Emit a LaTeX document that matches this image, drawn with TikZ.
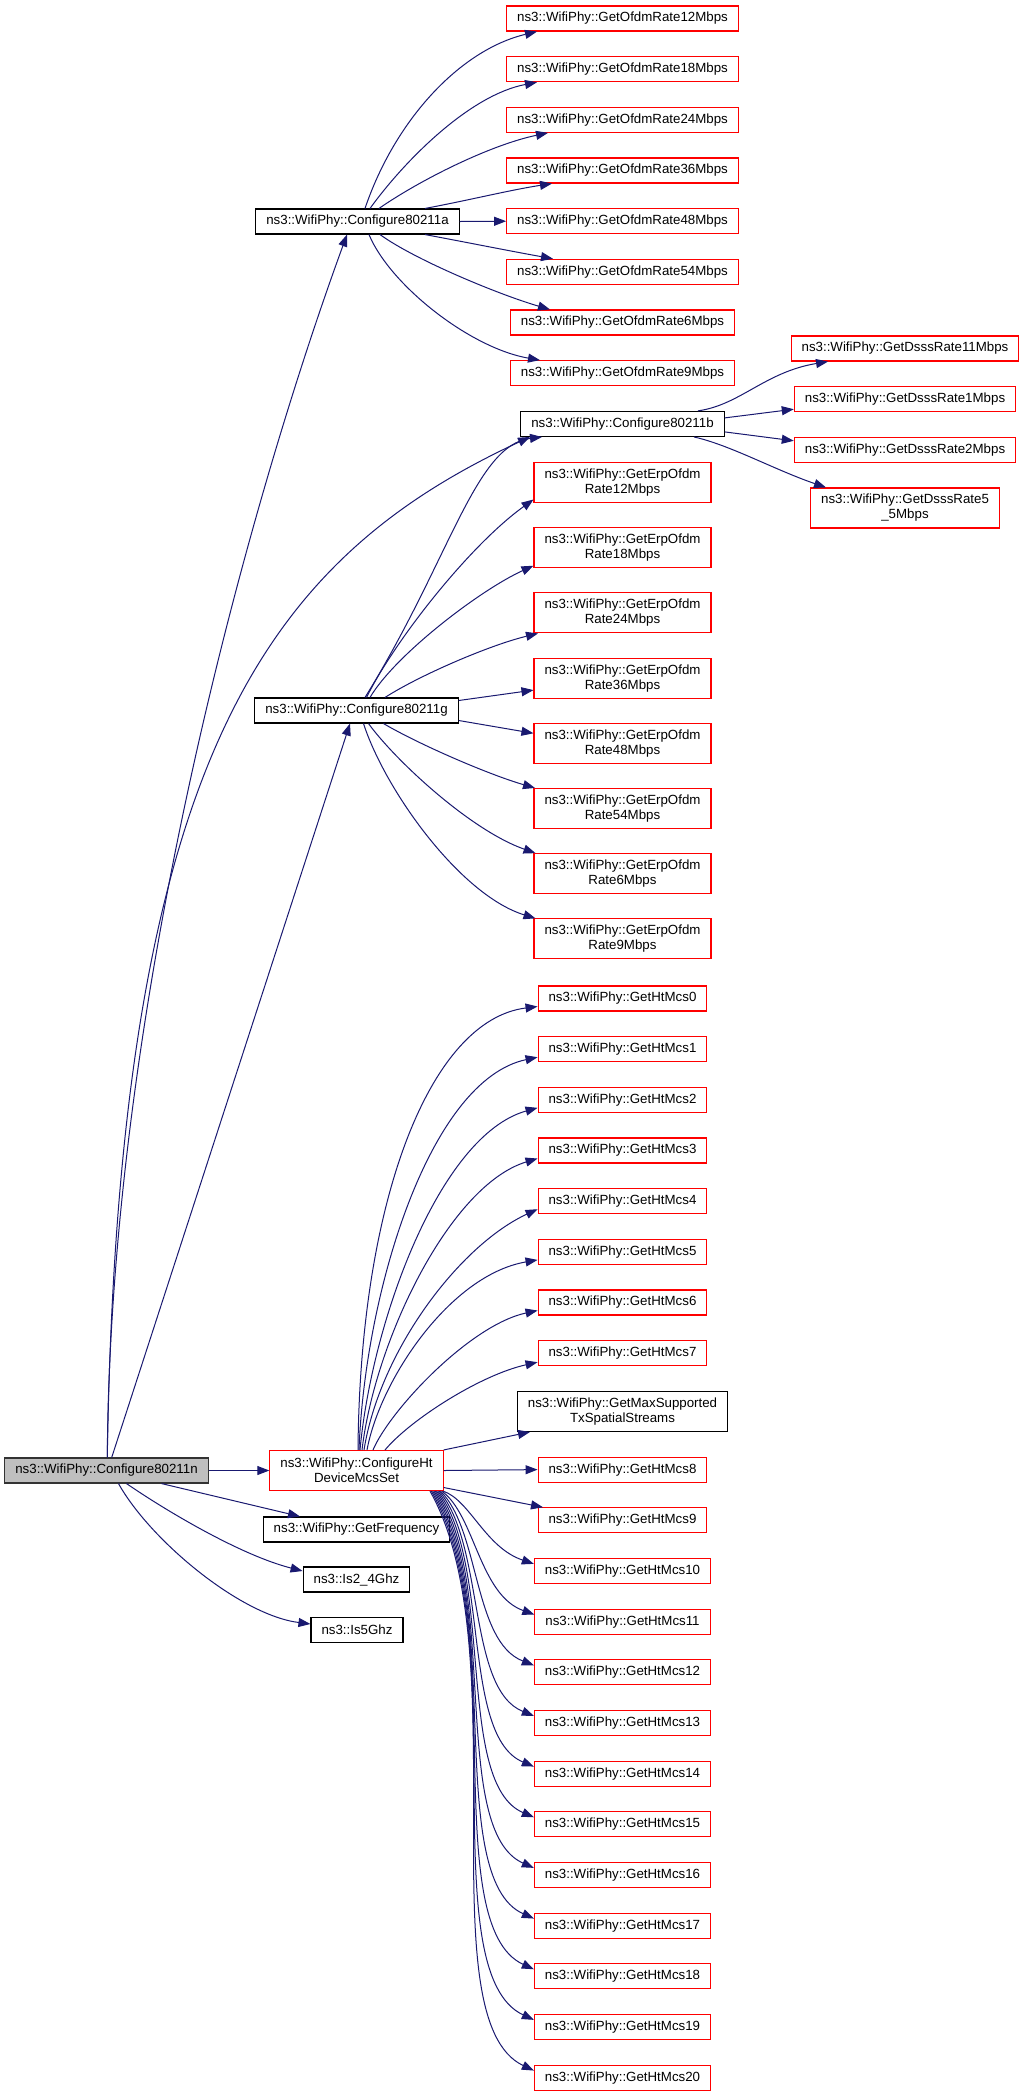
\documentclass[tikz,border=0pt]{standalone}
\usepackage{fontspec}
\setmainfont{Liberation Sans}
\usetikzlibrary{arrows.meta}
\definecolor{edgec}{HTML}{191970}
\definecolor{boxred}{HTML}{FF0000}
\definecolor{grayfill}{HTML}{BFBFBF}
\tikzset{
  box/.style={draw, line width=1.1pt, font=\fontsize{13.3pt}{15pt}\selectfont,
    inner xsep=10.5pt, inner ysep=0pt, minimum height=25pt, align=center, fill=white},
  rbox/.style={box, draw=boxred},
  kbox/.style={box, draw=black},
  twoline/.style={minimum height=40pt},
  conn/.style={draw=edgec, line width=1pt, -{Triangle[length=12pt,width=9pt]}},
}
\begin{document}
\begin{tikzpicture}[x=1pt,y=-1pt]
\useasboundingbox (0,0) rectangle (1024,2097);
\fill[white] (0,0) rectangle (1024,2097);

% column 0/1
\node[kbox, fill=grayfill, draw=black!80] (n) at (106.5,1470.5) {ns3::WifiPhy::Configure80211n};
\node[kbox] (a) at (357.5,221.5) {ns3::WifiPhy::Configure80211a};
\node[kbox] (g) at (356.5,710.5) {ns3::WifiPhy::Configure80211g};
\node[rbox,twoline] (ht) at (356.5,1470.5) {ns3::WifiPhy::ConfigureHt\\DeviceMcsSet};
\node[kbox] (fr) at (356.5,1529.5) {ns3::WifiPhy::GetFrequency};
\node[kbox] (i24) at (356.5,1579.5) {ns3::Is2\_4Ghz};
\node[kbox] (i5) at (357,1630) {ns3::Is5Ghz};

% column 2
\node[rbox] (o12) at (622.5,18.5) {ns3::WifiPhy::GetOfdmRate12Mbps};
\node[rbox] (o18) at (622.5,69.2) {ns3::WifiPhy::GetOfdmRate18Mbps};
\node[rbox] (o24) at (622.5,119.8) {ns3::WifiPhy::GetOfdmRate24Mbps};
\node[rbox] (o36) at (622.5,170.5) {ns3::WifiPhy::GetOfdmRate36Mbps};
\node[rbox] (o48) at (622.5,221.2) {ns3::WifiPhy::GetOfdmRate48Mbps};
\node[rbox] (o54) at (622.5,271.8) {ns3::WifiPhy::GetOfdmRate54Mbps};
\node[rbox] (o6) at (622.5,322.5) {ns3::WifiPhy::GetOfdmRate6Mbps};
\node[rbox] (o9) at (622.5,373.2) {ns3::WifiPhy::GetOfdmRate9Mbps};
\node[kbox] (b) at (622.5,423.9) {ns3::WifiPhy::Configure80211b};
\node[rbox,twoline] (e12) at (622.5,482.5) {ns3::WifiPhy::GetErpOfdm\\Rate12Mbps};
\node[rbox,twoline] (e18) at (622.5,547.7) {ns3::WifiPhy::GetErpOfdm\\Rate18Mbps};
\node[rbox,twoline] (e24) at (622.5,612.9) {ns3::WifiPhy::GetErpOfdm\\Rate24Mbps};
\node[rbox,twoline] (e36) at (622.5,678.1) {ns3::WifiPhy::GetErpOfdm\\Rate36Mbps};
\node[rbox,twoline] (e48) at (622.5,743.3) {ns3::WifiPhy::GetErpOfdm\\Rate48Mbps};
\node[rbox,twoline] (e54) at (622.5,808.5) {ns3::WifiPhy::GetErpOfdm\\Rate54Mbps};
\node[rbox,twoline] (e6) at (622.5,873.7) {ns3::WifiPhy::GetErpOfdm\\Rate6Mbps};
\node[rbox,twoline] (e9) at (622.5,938.9) {ns3::WifiPhy::GetErpOfdm\\Rate9Mbps};
\node[rbox] (m0) at (622.5,998.5) {ns3::WifiPhy::GetHtMcs0};
\node[rbox] (m1) at (622.5,1049.2) {ns3::WifiPhy::GetHtMcs1};
\node[rbox] (m2) at (622.5,1099.8) {ns3::WifiPhy::GetHtMcs2};
\node[rbox] (m3) at (622.5,1150.5) {ns3::WifiPhy::GetHtMcs3};
\node[rbox] (m4) at (622.5,1201.2) {ns3::WifiPhy::GetHtMcs4};
\node[rbox] (m5) at (622.5,1251.9) {ns3::WifiPhy::GetHtMcs5};
\node[rbox] (m6) at (622.5,1302.5) {ns3::WifiPhy::GetHtMcs6};
\node[rbox] (m7) at (622.5,1353.2) {ns3::WifiPhy::GetHtMcs7};
\node[kbox,twoline] (mx) at (622.5,1411.4) {ns3::WifiPhy::GetMaxSupported\\TxSpatialStreams};
\node[rbox] (m8) at (622.5,1469.6) {ns3::WifiPhy::GetHtMcs8};
\node[rbox] (m9) at (622.5,1520.3) {ns3::WifiPhy::GetHtMcs9};
\node[rbox] (m10) at (622.5,1570.9) {ns3::WifiPhy::GetHtMcs10};
\node[rbox] (m11) at (622.5,1621.6) {ns3::WifiPhy::GetHtMcs11};
\node[rbox] (m12) at (622.5,1672.3) {ns3::WifiPhy::GetHtMcs12};
\node[rbox] (m13) at (622.5,1722.9) {ns3::WifiPhy::GetHtMcs13};
\node[rbox] (m14) at (622.5,1773.6) {ns3::WifiPhy::GetHtMcs14};
\node[rbox] (m15) at (622.5,1824.3) {ns3::WifiPhy::GetHtMcs15};
\node[rbox] (m16) at (622.5,1874.9) {ns3::WifiPhy::GetHtMcs16};
\node[rbox] (m17) at (622.5,1925.6) {ns3::WifiPhy::GetHtMcs17};
\node[rbox] (m18) at (622.5,1976.3) {ns3::WifiPhy::GetHtMcs18};
\node[rbox] (m19) at (622.5,2026.9) {ns3::WifiPhy::GetHtMcs19};
\node[rbox] (m20) at (622.5,2077.6) {ns3::WifiPhy::GetHtMcs20};

% column 3
\node[rbox] (d11) at (905,348.5) {ns3::WifiPhy::GetDsssRate11Mbps};
\node[rbox] (d1) at (905,399.2) {ns3::WifiPhy::GetDsssRate1Mbps};
\node[rbox] (d2) at (905,449.8) {ns3::WifiPhy::GetDsssRate2Mbps};
\node[rbox,twoline] (d55) at (905,508) {ns3::WifiPhy::GetDsssRate5\\\_5Mbps};

% Configure80211n
\draw[conn] ([xshift=0.8pt]n.north) .. controls (110,1000) and (250,500) .. ([xshift=-10.5pt]a.south);
\draw[conn] ([xshift=0.8pt]n.north) .. controls (118,760) and (265,560) .. ([xshift=-92.5pt]b.south);
\draw[conn] ([xshift=5.2pt]n.north) -- ([xshift=-6.5pt]g.south);
\draw[conn] (n.east) -- (ht.west);
\draw[conn] ([xshift=55pt]n.south) -- ([xshift=-56.5pt]fr.north);
\draw[conn] ([xshift=20pt]n.south) .. controls (165,1510) and (240,1555) .. ([yshift=8.5pt]i24.west);
\draw[conn] ([xshift=12pt]n.south) .. controls (150,1540) and (240,1615) .. ([yshift=6pt]i5.west);

% Configure80211a
\draw[conn] ([xshift=7.5pt]a.north) .. controls (395,120) and (460,50) .. ([xshift=-85.5pt]o12.south);
\draw[conn] ([xshift=12.5pt]a.north) .. controls (405,160) and (470,95) .. ([xshift=-85.5pt]o18.south);
\draw[conn] ([xshift=21.5pt]a.north) .. controls (420,180) and (490,145) .. ([xshift=-74.5pt]o24.south);
\draw[conn] ([xshift=67.5pt]a.north) .. controls (470,200) and (510,190) .. ([xshift=-70.5pt]o36.south);
\draw[conn] (a.east) -- (o48.west);
\draw[conn] ([xshift=67.5pt]a.south) .. controls (470,243) and (510,251) .. ([xshift=-69.5pt]o54.north);
\draw[conn] ([xshift=22.5pt]a.south) .. controls (415,260) and (500,295) .. ([xshift=-72.5pt]o6.north);
\draw[conn] ([xshift=11.5pt]a.south) .. controls (390,285) and (470,348) .. ([xshift=-82.5pt]o9.north);

% Configure80211b
\draw[conn] ([xshift=75.5pt]b.north) .. controls (740,405) and (765,372) .. ([xshift=-77pt]d11.south);
\draw[conn] ([yshift=6pt]b.east) -- ([yshift=-10pt]d1.west);
\draw[conn] ([yshift=-8pt]b.east) -- ([yshift=9pt]d2.west);
\draw[conn] ([xshift=71.5pt]b.south) .. controls (730,445) and (775,470) .. ([xshift=-79pt]d55.north);

% Configure80211g
\draw[conn] ([xshift=8.5pt]g.north) .. controls (450,560) and (475,445) .. ([xshift=-80.5pt]b.south);
\draw[conn] ([xshift=10pt]g.north) .. controls (395,640) and (470,545) .. ([yshift=-17pt]e12.west);
\draw[conn] ([xshift=13.5pt]g.north) .. controls (395,655) and (480,590) .. ([yshift=-18pt]e18.west);
\draw[conn] ([xshift=28.5pt]g.north) .. controls (420,675) and (490,645) .. ([xshift=-84.5pt]e24.south);
\draw[conn] ([yshift=10pt]g.east) -- ([yshift=-12pt]e36.west);
\draw[conn] ([yshift=-10pt]g.east) -- ([yshift=10pt]e48.west);
\draw[conn] ([xshift=27pt]g.south) .. controls (420,745) and (490,775) .. ([xshift=-87.5pt]e54.north);
\draw[conn] ([xshift=12pt]g.south) .. controls (395,760) and (470,830) .. ([xshift=-87pt]e6.north);
\draw[conn] ([xshift=7pt]g.south) .. controls (385,790) and (460,895) .. ([xshift=-87pt]e9.north);

% ConfigureHtDeviceMcsSet
\draw[conn] ([xshift=1.5pt]ht.north) .. controls (360,1200) and (430,1020) .. ([yshift=-8pt]m0.west);
\draw[conn] ([xshift=2.5pt]ht.north) .. controls (365,1290) and (430,1080) .. ([yshift=-8pt]m1.west);
\draw[conn] ([xshift=3.5pt]ht.north) .. controls (372,1320) and (440,1135) .. ([yshift=-8pt]m2.west);
\draw[conn] ([xshift=5.5pt]ht.north) .. controls (375,1340) and (450,1185) .. ([yshift=-8pt]m3.west);
\draw[conn] ([xshift=7.5pt]ht.north) .. controls (380,1350) and (460,1245) .. ([yshift=-8pt]m4.west);
\draw[conn] ([xshift=10.5pt]ht.north) .. controls (380,1380) and (450,1275) .. ([yshift=-8pt]m5.west);
\draw[conn] ([xshift=16.5pt]ht.north) .. controls (390,1410) and (470,1325) .. ([yshift=-8pt]m6.west);
\draw[conn] ([xshift=28.5pt]ht.north) .. controls (410,1420) and (480,1375) .. ([yshift=-9pt]m7.west);
\draw[conn] (ht.north east) -- ([xshift=-92.5pt]mx.south);
\draw[conn] (ht.east) -- (m8.west);
\draw[conn] ([yshift=-17pt]ht.east) -- ([xshift=-79.5pt]m9.north);
\draw[conn] ([xshift=86.5pt]ht.south) .. controls (470,1500) and (485,1547.4) .. ([yshift=-6pt]m10.north west);
\draw[conn] ([xshift=85.2pt]ht.south) .. controls (475,1515) and (479,1594.6) .. ([yshift=-6pt]m11.north west);
\draw[conn] ([xshift=83.9pt]ht.south) .. controls (480,1530) and (473,1641.7) .. ([yshift=-6pt]m12.north west);
\draw[conn] ([xshift=82.6pt]ht.south) .. controls (485,1545) and (467,1688.9) .. ([yshift=-6pt]m13.north west);
\draw[conn] ([xshift=81.3pt]ht.south) .. controls (490,1560) and (461,1736.1) .. ([yshift=-6pt]m14.north west);
\draw[conn] ([xshift=80pt]ht.south) .. controls (495,1575) and (455,1783.3) .. ([yshift=-6pt]m15.north west);
\draw[conn] ([xshift=78.7pt]ht.south) .. controls (500,1590) and (449,1830.4) .. ([yshift=-6pt]m16.north west);
\draw[conn] ([xshift=77.4pt]ht.south) .. controls (505,1605) and (443,1877.6) .. ([yshift=-6pt]m17.north west);
\draw[conn] ([xshift=76.1pt]ht.south) .. controls (510,1620) and (437,1924.8) .. ([yshift=-6pt]m18.north west);
\draw[conn] ([xshift=74.8pt]ht.south) .. controls (515,1635) and (431,1971.9) .. ([yshift=-6pt]m19.north west);
\draw[conn] ([xshift=73.5pt]ht.south) .. controls (520,1650) and (425,2019.1) .. ([yshift=-6pt]m20.north west);
\end{tikzpicture}
\end{document}
